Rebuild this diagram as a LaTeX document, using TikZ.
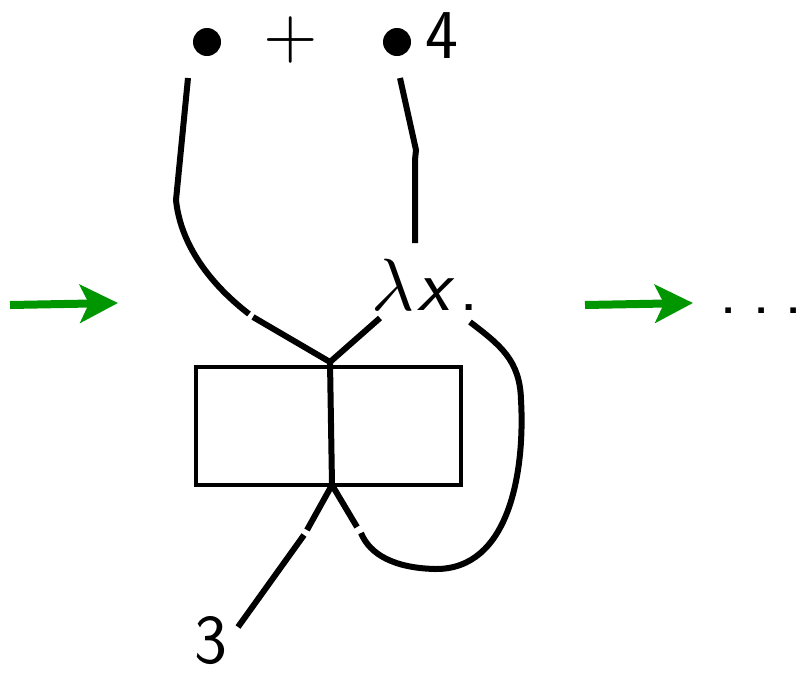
\documentclass[tikz,border=0pt]{standalone}
\usepackage{fontspec}
\usepackage{unicode-math}
\setmainfont{Latin Modern Sans}
\setmathfont{Latin Modern Math}
\usetikzlibrary{arrows.meta}
\definecolor{arrgreen}{RGB}{0,150,0}
\begin{document}
\begin{tikzpicture}[x=1pt,y=-1pt,
  wire/.style={line width=6pt},
  boxline/.style={line width=4pt},
  big/.style={font=\fontsize{70}{80}\selectfont, inner sep=0pt},
  garrow/.style={arrgreen, line width=8pt, -{Stealth[length=38pt,width=38pt,inset=9pt]}}]
\useasboundingbox (0,0) rectangle (803,675);
% top row
\fill (207,42) circle (14);
\node[big, anchor=center] (plus) at (291,40) {$+$};
\fill (397,42) circle (14);
\node[big, anchor=base west] (four) at (425,58) {4};
% lambda
\node[big, anchor=base west, font=\fontsize{74}{80}\selectfont] (lam) at (371,310) {$\lambda$\kern3pt\textit{x}\kern5pt.};
% box
\draw[boxline] (196,367) rectangle (461,485);
\coordinate (top) at (330,362);
\coordinate (bot) at (332,485);
\draw[wire] (top) -- (bot);
% left wire
\coordinate (lw0) at (188,78);
\draw[wire] (lw0) -- (176,200) .. controls (180,240) and (205,280) .. (249,314);
\draw[wire] (253,317) -- (top);
% right wire
\coordinate (rw0) at (400,78);
\draw[wire] (rw0) -- (416,150) -- (415,160) -- (415,243);
% lambda link
\draw[wire] (top) -- (380,318);
% loop
\draw[wire] (470,322) .. controls (500,345) and (520,360) .. (521,400)
  .. controls (525,470) and (510,570) .. (435,569)
  .. controls (395,568) and (370,555) .. (361,533);
\draw[wire] (357,527) -- (bot);
% bottom wire
\draw[wire] (bot) -- (307,530);
\draw[wire] (304,535) -- (238,627);
\node[big, anchor=base] (three) at (211,663) {3};
% arrows
\draw[garrow] (10,305) -- (118,303);
\draw[garrow] (585,305) -- (693,303);
\node[big, anchor=base east] (dots) at (803,313) {.\kern14pt.\kern14pt.};
\end{tikzpicture}
\end{document}
